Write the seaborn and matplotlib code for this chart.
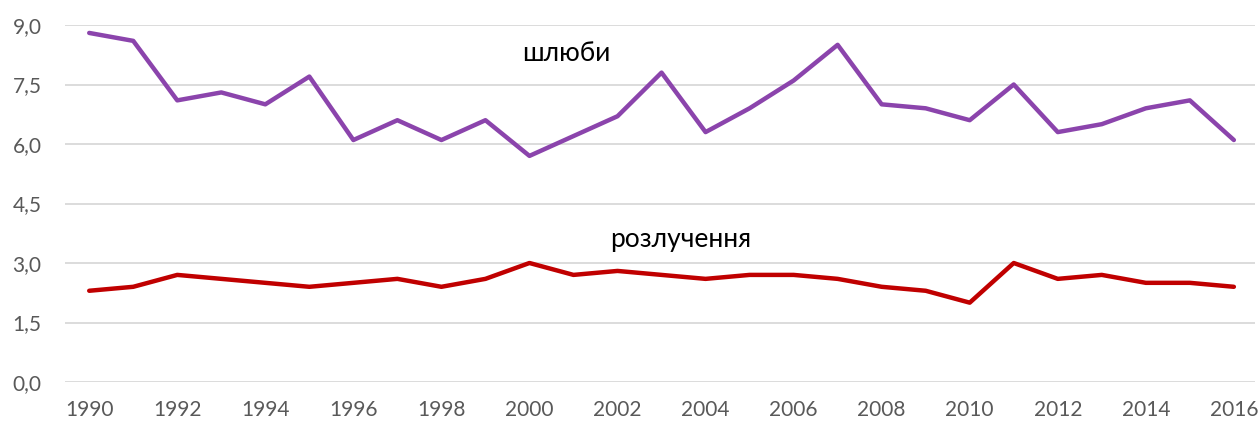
import matplotlib
matplotlib.use("Agg")
import matplotlib.pyplot as plt
import matplotlib.ticker as mticker
import pandas as pd
import seaborn as sns

years = list(range(1990, 2017))
marriages = [8.8, 8.6, 7.1, 7.3, 7.0, 7.7, 6.1, 6.6, 6.1, 6.6, 5.7, 6.2, 6.7, 7.8,
             6.3, 6.9, 7.6, 8.5, 7.0, 6.9, 6.6, 7.5, 6.3, 6.5, 6.9, 7.1, 6.1]
divorces = [2.3, 2.4, 2.7, 2.6, 2.5, 2.4, 2.5, 2.6, 2.4, 2.6, 3.0, 2.7, 2.8, 2.7,
            2.6, 2.7, 2.7, 2.6, 2.4, 2.3, 2.0, 3.0, 2.6, 2.7, 2.5, 2.5, 2.4]
yticks = [0, 1.5, 3.0, 4.5, 6.0, 7.5, 9.0]
xticks = list(range(1990, 2017, 2))

df = pd.DataFrame({"year": years, "шлюби": marriages, "розлучення": divorces})

sns.set_theme(style="white")
plt.rcParams["font.family"] = ["Lato", "DejaVu Sans"]

fig = plt.figure(figsize=(12.58, 4.21), dpi=100)
ax = fig.add_axes([65 / 1258, 1 - 382 / 421, (1255 - 65) / 1258, (382 - 25) / 421])

sns.lineplot(data=df, x="year", y="шлюби", ax=ax, color="#8B44AC", linewidth=3.2)
sns.lineplot(data=df, x="year", y="розлучення", ax=ax, color="#C00000", linewidth=3.2)

ax.set_xlim(1989.45, 2016.48)
ax.set_ylim(0, 9)
ax.set_yticks(yticks)
ax.set_xticks(xticks)
ax.yaxis.set_major_formatter(mticker.FuncFormatter(lambda v, p: f"{v:.1f}".replace(".", ",")))
ax.grid(axis="y", color="#d9d9d9", linewidth=1.3)
ax.set_axisbelow(True)
for s in ax.spines.values():
    s.set_visible(False)
ax.tick_params(axis="both", length=0, labelsize=15, labelcolor="#595959")
ax.tick_params(axis="y", pad=17)
ax.tick_params(axis="x", pad=13)
ax.set_xlabel("")
ax.set_ylabel("")

ax.text(2000.83, 8.29, "шлюби", fontsize=19, color="black", ha="center", va="center")
ax.text(2003.44, 3.58, "розлучення", fontsize=19, color="black", ha="center", va="center")

fig.savefig("out.png", dpi=100)
